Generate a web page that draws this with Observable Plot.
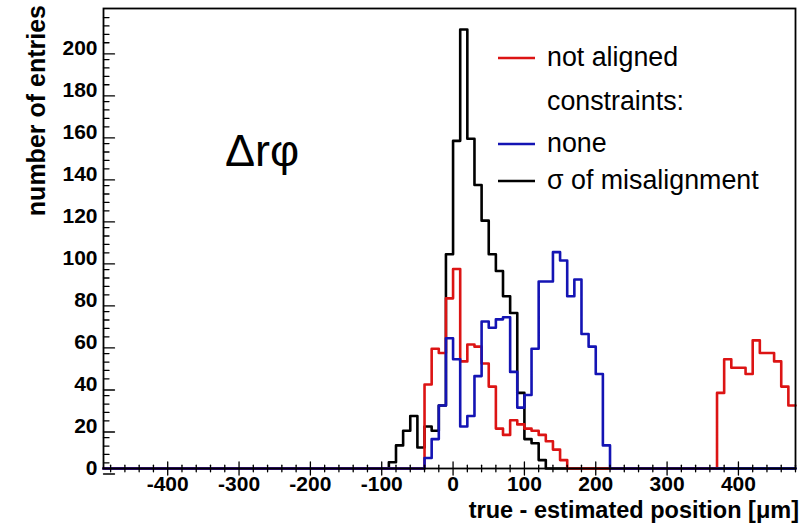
<!DOCTYPE html>
<html>
<head>
<meta charset="utf-8">
<script src="https://cdn.jsdelivr.net/npm/d3@7"></script>
<script src="https://cdn.jsdelivr.net/npm/@observablehq/plot@0.6"></script>
<style>
  html, body { margin: 0; padding: 0; background: #ffffff; }
  #chart svg { display: block; }
</style>
</head>
<body>
<div id="chart"></div>
<script>
// Histogram binning (µm)
const binWidth = 10;
const xRange = [-490, 480];

// "not aligned": core and far tail
const notAlignedStart = -40;
const notAligned = [40, 57, 55, 81, 95, 51, 59, 58, 50, 39, 19, 16, 23, 21, 19, 18, 16, 13, 9, 4];
const notAlignedTailStart = 370;
const notAlignedTail = [36, 52, 48, 48, 45, 61, 55, 55, 51, 39, 30];

// constraints: none
const noneStart = -40;
const none = [5, 14, 30, 62, 52, 20, 25, 44, 70, 67, 71, 72, 46, 29, 35, 57, 89, 89, 103, 99, 82, 90, 64, 58, 45, 11];

// constraints: sigma of misalignment
const sigmaStart = -90;
const sigma = [3, 11, 18, 25, 10, 20, 18, 30, 102, 156, 209, 157, 135, 118, 102, 94, 82, 74, 36, 14, 12, 4];

// Axis ticks
const xMajor = [-400, -300, -200, -100, 0, 100, 200, 300, 400];
const xMinor = d3.range(-480, 481, 20).filter(v => v % 100 !== 0);
const yMajor = [0, 20, 40, 60, 80, 100, 120, 140, 160, 180, 200];
const yMinor = d3.range(0, 219, 4).filter(v => v % 20 !== 0);

// Legend entries
const legendLabels = ["not aligned", "constraints:", "none", "\u03c3 of misalignment"];
const legendColors = ["#dc1414", null, "#1414b4", "#000000"];

// Expand sparse bin lists into a full outline over the axis range (empty bins at 0)
function outline(segments) {
  const n = Math.round((xRange[1] - xRange[0]) / binWidth);
  const counts = new Array(n).fill(0);
  for (const [start, values] of segments) {
    const offset = Math.round((start - xRange[0]) / binWidth);
    values.forEach((v, i) => { counts[offset + i] = v; });
  }
  const pts = counts.map((c, i) => ({x: xRange[0] + i * binWidth, y: c}));
  pts.push({x: xRange[1], y: counts[n - 1]});
  return pts;
}

const sigmaPts = outline([[sigmaStart, sigma]]);
const notAlignedPts = outline([[notAlignedStart, notAligned], [notAlignedTailStart, notAlignedTail]]);
const nonePts = outline([[noneStart, none]]);

const font = "'Liberation Sans', Arial, Helvetica, sans-serif";
const tickUp = {draw(ctx, l) { ctx.moveTo(0, 0); ctx.lineTo(0, -l); }};
const tickRight = {draw(ctx, l) { ctx.moveTo(0, 0); ctx.lineTo(l, 0); }};

const plot = Plot.plot({
  width: 804,
  height: 524,
  marginLeft: 103,
  marginRight: 9,
  marginTop: 8,
  marginBottom: 56,
  x: {domain: xRange, axis: null},
  y: {domain: [0, 219], axis: null},
  style: {background: "#ffffff", fontFamily: font},
  marks: [
    Plot.line(sigmaPts, {x: "x", y: "y", curve: "step-after", stroke: "#000000", strokeWidth: 2.6}),
    Plot.line(notAlignedPts, {x: "x", y: "y", curve: "step-after", stroke: legendColors[0], strokeWidth: 2.6}),
    Plot.line(nonePts, {x: "x", y: "y", curve: "step-after", stroke: legendColors[2], strokeWidth: 2.6}),
    Plot.frame({stroke: "#000000", strokeWidth: 1.8}),
    Plot.vectorX(xMajor, {x: d => d, frameAnchor: "bottom", length: 13, shape: tickUp, stroke: "#000", strokeWidth: 1.3}),
    Plot.vectorX(xMinor, {x: d => d, frameAnchor: "bottom", length: 6.5, shape: tickUp, stroke: "#000", strokeWidth: 1.3}),
    Plot.vectorY(yMajor, {y: d => d, frameAnchor: "left", length: 11, shape: tickRight, stroke: "#000", strokeWidth: 1.3}),
    Plot.vectorY(yMinor, {y: d => d, frameAnchor: "left", length: 5.5, shape: tickRight, stroke: "#000", strokeWidth: 1.3}),
    Plot.text(xMajor, {x: d => d, frameAnchor: "bottom", dy: 8, lineAnchor: "top", text: d => String(d),
      fontSize: 21, fontWeight: "bold", fill: "#000"}),
    Plot.text(yMajor, {y: d => d, frameAnchor: "left", dx: -6, textAnchor: "end", text: d => String(d),
      fontSize: 21, fontWeight: "bold", fill: "#000"})
  ]
});

document.getElementById("chart").appendChild(plot);

// Titles, annotation and legend
const svg = d3.select(plot);
const ann = svg.append("g").attr("font-family", font).attr("fill", "#000").attr("text-anchor", "start");

ann.append("text")
  .attr("transform", "translate(45,5) rotate(-90)")
  .attr("text-anchor", "end")
  .attr("font-size", 25)
  .attr("font-weight", "bold")
  .text("number of entries");

ann.append("text")
  .attr("x", 799).attr("y", 518)
  .attr("text-anchor", "end")
  .attr("font-size", 23.5)
  .attr("font-weight", "bold")
  .text("true - estimated position [\u03bcm]");

ann.append("text")
  .attr("x", 225).attr("y", 166)
  .attr("text-anchor", "start")
  .attr("font-size", 45)
  .text("\u0394r\u03c6");

const legendY = [66, 110, 152, 189];
legendLabels.forEach((label, i) => {
  if (legendColors[i]) {
    ann.append("line")
      .attr("x1", 498).attr("x2", 535)
      .attr("y1", legendY[i] - 8).attr("y2", legendY[i] - 8)
      .attr("stroke", legendColors[i]).attr("stroke-width", 2.4);
  }
  ann.append("text")
    .attr("x", 547).attr("y", legendY[i])
    .attr("text-anchor", "start")
    .attr("font-size", 26.8)
    .text(label);
});
</script>
</body>
</html>
